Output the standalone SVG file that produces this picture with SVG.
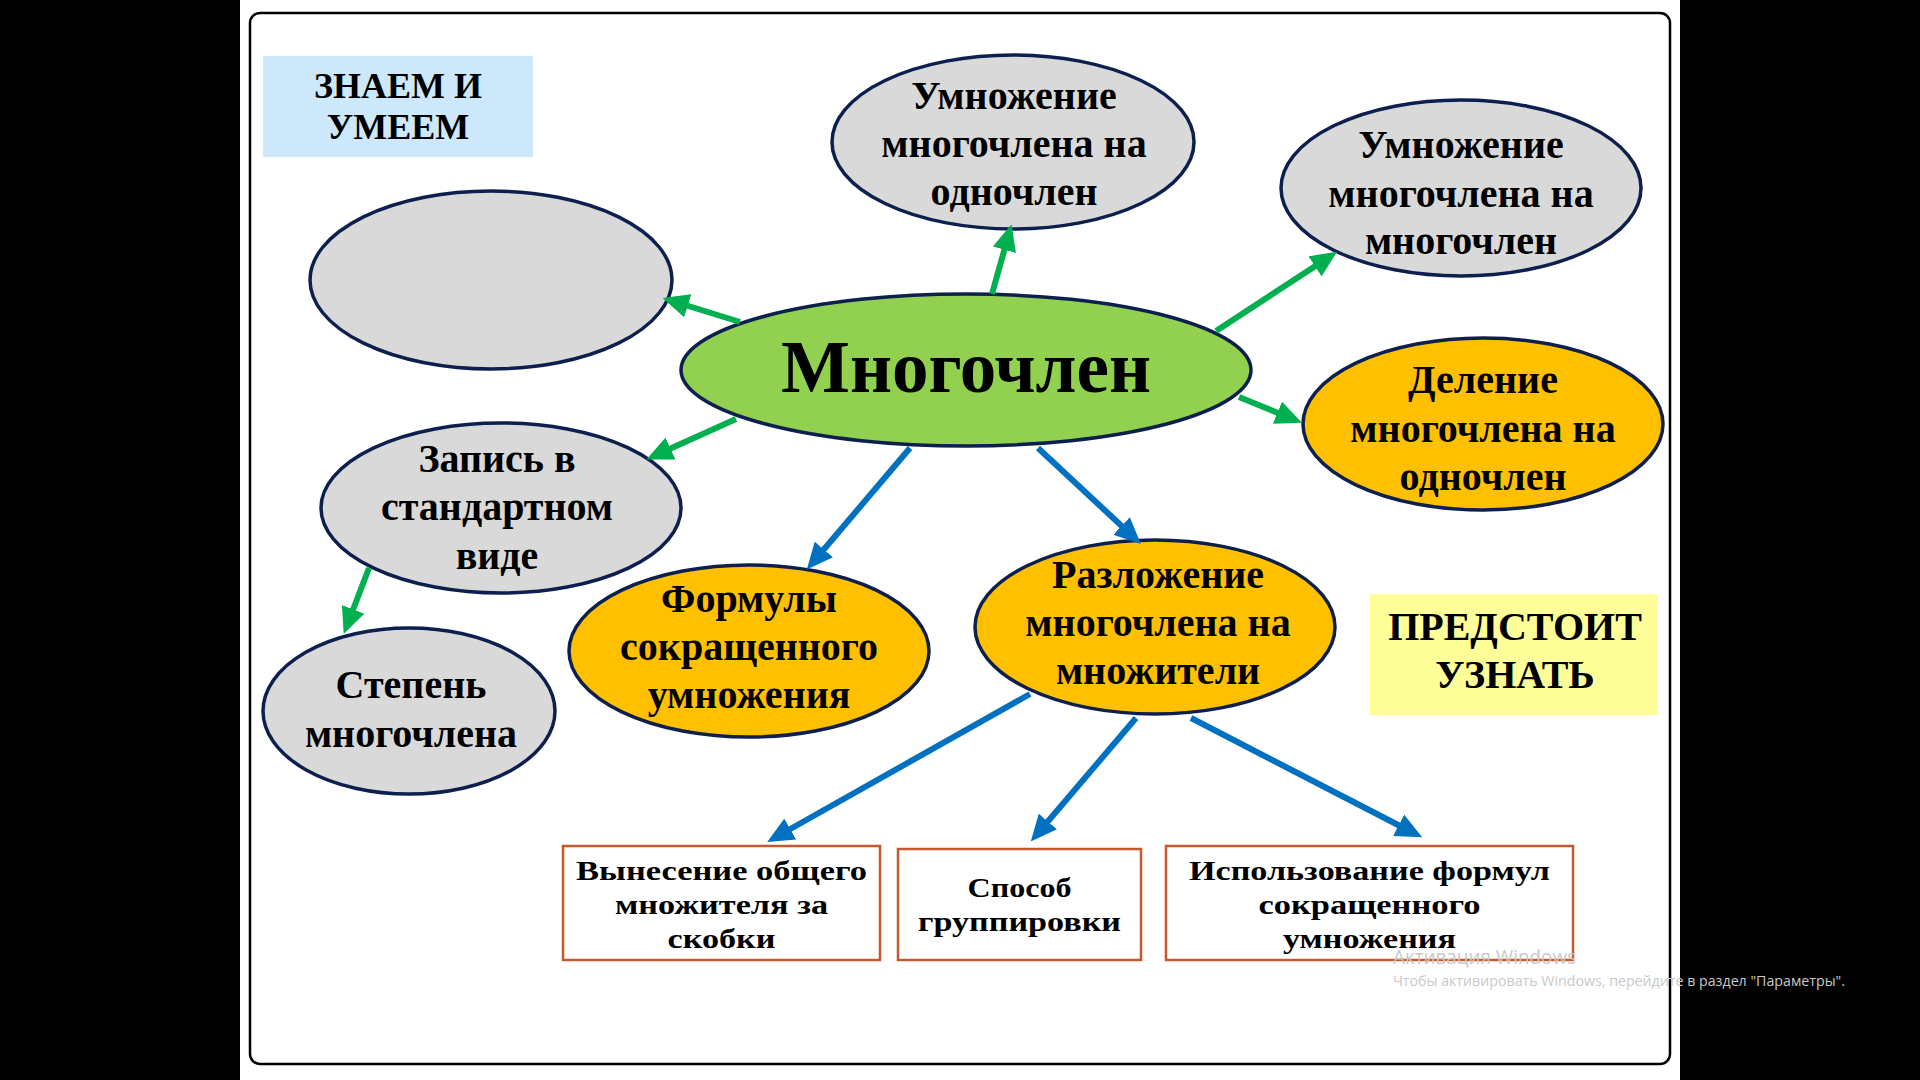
<svg xmlns="http://www.w3.org/2000/svg" width="1920" height="1080" viewBox="0 0 1920 1080">
<style>
.ell{stroke:#0d1f4d;stroke-width:3.5}
.gray{fill:#d9d9d9}
.orange{fill:#ffc000}
.green{fill:#92d050}
.t{font-family:"Liberation Serif","Times New Roman",serif;font-weight:bold;fill:#000;text-anchor:middle}
.e{font-size:40px}
.b{font-size:28px}
.box{fill:#fff;stroke:#c5582d;stroke-width:2.5}
.g{stroke:#00b050;stroke-width:6;fill:none;marker-end:url(#ag)}
.bl{stroke:#0070c0;stroke-width:6;fill:none;marker-end:url(#ab)}
.wm{font-family:"Open Sans","Noto Sans",sans-serif;fill:#c9c9c9}
</style>
<defs>
<marker id="ag" viewBox="0 0 4.4 4" markerWidth="4.4" markerHeight="4" refX="1" refY="2" orient="auto" markerUnits="strokeWidth"><path d="M0,0 L4.4,2 L0,4 z" fill="#00b050"/></marker>
<marker id="ab" viewBox="0 0 4.4 4" markerWidth="4.4" markerHeight="4" refX="1" refY="2" orient="auto" markerUnits="strokeWidth"><path d="M0,0 L4.4,2 L0,4 z" fill="#0070c0"/></marker>
</defs>
<rect x="0" y="0" width="1920" height="1080" fill="#000"/>
<rect x="240" y="0" width="1440" height="1080" fill="#fff"/>
<rect x="250" y="13" width="1420" height="1051" rx="10" fill="#fff" stroke="#000" stroke-width="2.5"/>

<g id="known">
<rect x="263" y="56" width="270" height="101" fill="#cde8fb"/>
<text class="t" x="398" y="98" font-size="36">ЗНАЕМ И</text>
<text class="t" x="398" y="139" font-size="36">УМЕЕМ</text>
</g>
<g id="future">
<rect x="1370" y="594" width="288" height="121" fill="#ffff99"/>
<text class="t" x="1515" y="640" font-size="40">ПРЕДСТОИТ</text>
<text class="t" x="1515" y="688" font-size="40">УЗНАТЬ</text>
</g>

<g id="empty"><ellipse class="ell gray" cx="491" cy="280" rx="181" ry="89"/></g>
<g id="mul-mono">
<ellipse class="ell gray" cx="1013" cy="142" rx="181" ry="87"/>
<text class="t e" x="1014" y="109">Умножение</text>
<text class="t e" x="1014" y="157">многочлена на</text>
<text class="t e" x="1014" y="205">одночлен</text>
</g>
<g id="mul-poly">
<ellipse class="ell gray" cx="1461" cy="188" rx="180" ry="88"/>
<text class="t e" x="1461" y="158">Умножение</text>
<text class="t e" x="1461" y="207">многочлена на</text>
<text class="t e" x="1461" y="254">многочлен</text>
</g>
<g id="center">
<ellipse class="ell green" cx="966" cy="370" rx="285" ry="76"/>
<text class="t" x="966" y="392" font-size="73">Многочлен</text>
</g>
<g id="div">
<ellipse class="ell orange" cx="1483" cy="424" rx="180" ry="86"/>
<text class="t e" x="1483" y="393">Деление</text>
<text class="t e" x="1483" y="442">многочлена на</text>
<text class="t e" x="1483" y="490">одночлен</text>
</g>
<g id="standard">
<ellipse class="ell gray" cx="501" cy="508" rx="180" ry="85"/>
<text class="t e" x="497" y="472">Запись в</text>
<text class="t e" x="497" y="520">стандартном</text>
<text class="t e" x="497" y="569">виде</text>
</g>
<g id="degree">
<ellipse class="ell gray" cx="409" cy="711" rx="146" ry="83"/>
<text class="t e" x="411" y="698">Степень</text>
<text class="t e" x="411" y="747">многочлена</text>
</g>
<g id="formulas">
<ellipse class="ell orange" cx="749" cy="651" rx="180" ry="86"/>
<text class="t e" x="749" y="612">Формулы</text>
<text class="t e" x="749" y="660">сокращенного</text>
<text class="t e" x="749" y="708">умножения</text>
</g>
<g id="factor">
<ellipse class="ell orange" cx="1155" cy="627" rx="180" ry="87"/>
<text class="t e" x="1158" y="588">Разложение</text>
<text class="t e" x="1158" y="636">многочлена на</text>
<text class="t e" x="1158" y="684">множители</text>
</g>
<g id="box1">
<rect class="box" x="563" y="846" width="317" height="114"/>
<text class="t b" x="721.5" y="880" textLength="291" lengthAdjust="spacingAndGlyphs">Вынесение общего</text>
<text class="t b" x="721.5" y="914" textLength="213" lengthAdjust="spacingAndGlyphs">множителя за</text>
<text class="t b" x="721.5" y="948" textLength="108" lengthAdjust="spacingAndGlyphs">скобки</text>
</g>
<g id="box2">
<rect class="box" x="898" y="849" width="243" height="111"/>
<text class="t b" x="1019.5" y="897" textLength="104" lengthAdjust="spacingAndGlyphs">Способ</text>
<text class="t b" x="1019.5" y="931" textLength="203" lengthAdjust="spacingAndGlyphs">группировки</text>
</g>
<g id="box3">
<rect class="box" x="1166" y="846" width="407" height="114"/>
<text class="t b" x="1369.5" y="880" textLength="361" lengthAdjust="spacingAndGlyphs">Использование формул</text>
<text class="t b" x="1369.5" y="914" textLength="222" lengthAdjust="spacingAndGlyphs">сокращенного</text>
<text class="t b" x="1369.5" y="948" textLength="173" lengthAdjust="spacingAndGlyphs">умножения</text>
</g>

<g id="connectors">
<line class="g" x1="740" y1="322" x2="682" y2="304"/>
<line class="g" x1="992" y1="294" x2="1006" y2="244"/>
<line class="g" x1="1216" y1="331" x2="1320" y2="263"/>
<line class="g" x1="1239" y1="397" x2="1283" y2="415"/>
<line class="g" x1="736" y1="419" x2="665" y2="451"/>
<line class="g" x1="369" y1="568" x2="351" y2="615"/>
<line class="bl" x1="910" y1="448" x2="820" y2="554"/>
<line class="bl" x1="1038" y1="448" x2="1126" y2="530"/>
<line class="bl" x1="1030" y1="694" x2="785" y2="832"/>
<line class="bl" x1="1136" y1="718" x2="1044" y2="826"/>
<line class="bl" x1="1191" y1="718" x2="1404" y2="828"/>
</g>

<text class="wm" x="1393" y="964" font-size="20" textLength="183" lengthAdjust="spacingAndGlyphs">Активация Windows</text>
<text class="wm" x="1393" y="986" font-size="15" textLength="452" lengthAdjust="spacingAndGlyphs">Чтобы активировать Windows, перейдите в раздел "Параметры".</text>
</svg>
